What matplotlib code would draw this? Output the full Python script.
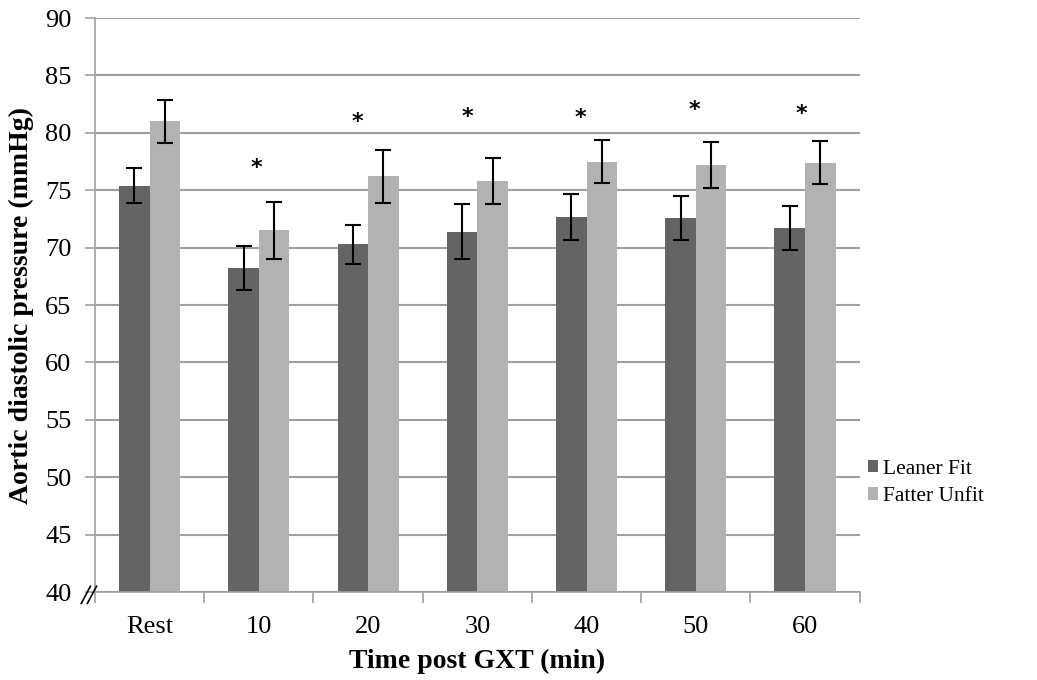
import numpy as np
import matplotlib.pyplot as plt

plt.rcParams['font.family'] = ['Liberation Serif', 'DejaVu Serif']

categories = ['Rest', '10', '20', '30', '40', '50', '60']
leaner = [75.4, 68.2, 70.3, 71.4, 72.7, 72.6, 71.7]
leaner_err = [1.5, 1.9, 1.7, 2.4, 2.0, 1.9, 1.9]
fatter = [81.0, 71.5, 76.2, 75.8, 77.5, 77.2, 77.4]
fatter_err = [1.9, 2.5, 2.3, 2.0, 1.9, 2.0, 1.9]
# significance markers (category position, value)
star_x = [0.98, 1.90, 2.91, 3.945, 4.99, 5.97]
star_y = [76.9, 80.9, 81.4, 81.3, 82.0, 81.6]

x = np.arange(len(categories))
w = 0.28

fig = plt.figure(figsize=(10.37, 6.8), dpi=100)
ax = fig.add_axes([0.0916, 0.1294, 0.7374, 0.8441])

ax.bar(x - w/2, leaner, w, color='#646464', label='Leaner Fit', zorder=2)
ax.bar(x + w/2, fatter, w, color='#b2b2b2', label='Fatter Unfit', zorder=2)
ax.errorbar(x - w/2, leaner, yerr=leaner_err, fmt='none', ecolor='black',
            elinewidth=1.5, capsize=6, capthick=1.5, zorder=3)
ax.errorbar(x + w/2, fatter, yerr=fatter_err, fmt='none', ecolor='black',
            elinewidth=1.5, capsize=6, capthick=1.5, zorder=3)

for sx, sy in zip(star_x, star_y):
    ax.text(sx, sy, '*', ha='center', va='center', fontsize=16,
            fontweight='bold', family='DejaVu Sans')

ax.set_ylim(40, 90)
ax.set_xlim(-0.5, len(categories) - 0.5)
ax.set_yticks(np.arange(40, 91, 5))
ax.grid(axis='y', color='#a0a0a0', linewidth=1.5, zorder=0)
ax.set_axisbelow(True)

ax.set_xticks(x)
ax.set_xticklabels(categories)
ax.set_xticks(np.arange(-0.5, len(categories)), minor=True)
ax.tick_params(axis='x', which='major', length=0, labelsize=19, pad=17)
ax.tick_params(axis='x', which='minor', length=8, color='#a0a0a0', width=1.2)
ax.tick_params(axis='y', length=7, color='#a0a0a0', width=1.2, labelsize=19, pad=10)

for s in ['top', 'right']:
    ax.spines[s].set_visible(False)
for s in ['left', 'bottom']:
    ax.spines[s].set_color('#a0a0a0')
    ax.spines[s].set_linewidth(1.2)

# axis break marks
for dx in [-0.012, -0.004]:
    ax.plot([dx - 0.006, dx + 0.006], [-0.020, 0.010], transform=ax.transAxes,
            color='black', linewidth=1.2, clip_on=False, zorder=5)

ax.set_ylabel('Aortic diastolic pressure (mmHg)', fontsize=20, fontweight='bold',
              labelpad=8)
ax.set_xlabel('Time post GXT (min)', fontsize=20, fontweight='bold', labelpad=8)

ax.legend(loc='center left', bbox_to_anchor=(0.985, 0.19), frameon=False,
          fontsize=15.5, handlelength=0.5, handleheight=0.5, labelspacing=0.38,
          handletextpad=0.2)

fig.savefig('out.png', dpi=100)
